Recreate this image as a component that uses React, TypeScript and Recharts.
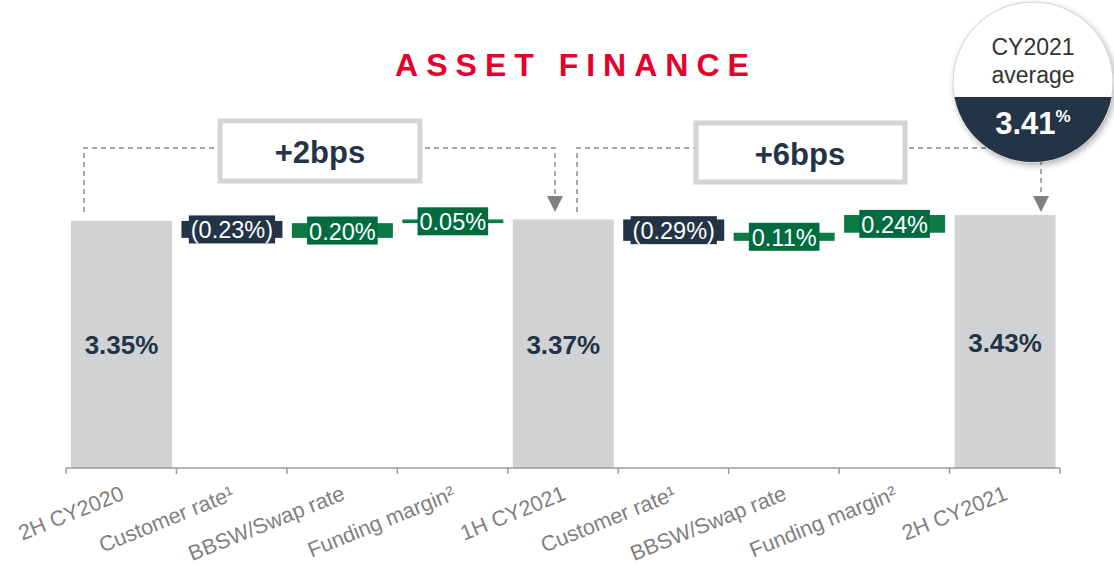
import React from 'react';
import { BarChart, Bar, XAxis, YAxis, Cell } from 'recharts';

// waterfall steps, in % (totals are levels, the rest are changes)
const categories = [
    '2H CY2020',
    'Customer rate¹',
    'BBSW/Swap rate',
    'Funding margin²',
    '1H CY2021',
    'Customer rate¹',
    'BBSW/Swap rate',
    'Funding margin²',
    '2H CY2021'
];
const stepKinds = ['total', 'change', 'change', 'change', 'total', 'change', 'change', 'change', 'total'];
const stepValues = [3.35, -0.23, 0.2, 0.05, 3.37, -0.29, 0.11, 0.24, 3.43];

const W = 1114;
const H = 567;
const margin = { top: 173, right: 54, bottom: 0, left: 66 };
const band = (W - margin.left - margin.right) / categories.length;

const FONT = '"Liberation Sans", Arial, Helvetica, sans-serif';
const NAVY = '#243447';
const GREEN_BAR = '#0C7A45';
const GREEN_BOX = '#006B3F';
const GREY_BAR = '#D1D2D4';
const AXIS = '#9A9A9A';

// build floating bars: invisible base + visible part
let running = 0;
const chartData = categories.map((name, i) => {
    const v = stepValues[i];
    if (stepKinds[i] === 'total') {
        running = v;
        return { name, base: 0, size: v, kind: 'total', value: v };
    }
    const start = running;
    const end = running + v;
    running = end;
    return { name, base: Math.min(start, end), size: Math.abs(v), kind: v < 0 ? 'down' : 'up', value: v };
});

const charW: Record<string, number> = { '.': 0.278, '%': 0.889, '(': 0.333, ')': 0.333 };
const textWidth = (s: string, size: number) =>
    s.split('').reduce((acc, c) => acc + (charW[c] ?? 0.556), 0) * size;

const fmt = (v: number) => {
    const s = Math.abs(v).toFixed(2) + '%';
    return v < 0 ? `(${s})` : s;
};

const StepShape = (props: any) => {
    const { x, y, width, height, payload } = props;
    const cx = x + width / 2;
    const cy = y + height / 2;
    if (payload.kind === 'total') {
        return (
            <g>
                <rect x={x} y={y} width={width} height={height} fill={GREY_BAR} />
                <text x={cx} y={cy + 10} textAnchor="middle" fontFamily={FONT} fontWeight="bold" fontSize={26} fill={NAVY}>
                    {fmt(payload.value)}
                </text>
            </g>
        );
    }
    const barFill = payload.kind === 'down' ? NAVY : GREEN_BAR;
    const boxFill = payload.kind === 'down' ? NAVY : GREEN_BOX;
    const label = fmt(payload.value);
    const bw = textWidth(label, 23.5) + 4;
    return (
        <g>
            <rect x={x} y={y} width={width} height={Math.max(height, 3)} fill={barFill} />
            <rect x={cx - bw / 2} y={cy - 14} width={bw} height={28} fill={boxFill} />
            <text x={cx} y={cy + 9} textAnchor="middle" fontFamily={FONT} fontSize={23.5} fill="#FFFFFF">
                {label}
            </text>
        </g>
    );
};

const AxisTick = (props: any) => {
    const { x, y, payload, index } = props;
    const last = index === categories.length - 1;
    const ax = x + 4;
    const ay = y + 31;
    return (
        <g>
            <line x1={x - band / 2} x2={x - band / 2} y1={y} y2={y + 6} stroke={AXIS} strokeWidth={1.5} />
            {last && <line x1={x + band / 2} x2={x + band / 2} y1={y} y2={y + 6} stroke={AXIS} strokeWidth={1.5} />}
            <text
                x={ax}
                y={ay}
                textAnchor="end"
                transform={`rotate(-22, ${ax}, ${ay})`}
                fontFamily={FONT}
                fontSize={21.5}
                fill="#7F7F7F"
            >
                {payload.value}
            </text>
        </g>
    );
};

export default function App() {
    return (
        <div style={{ position: 'absolute', left: 0, top: 0, width: W, height: H, background: '#fff' }}>
            <BarChart width={W} height={H} data={chartData} margin={margin} barSize={101}>
                <XAxis
                    dataKey="name"
                    interval={0}
                    height={99}
                    tickLine={false}
                    tickSize={0}
                    tickMargin={0}
                    axisLine={{ stroke: AXIS, strokeWidth: 1.5 }}
                    tick={<AxisTick />}
                />
                <YAxis hide domain={[0, 4]} />
                <Bar dataKey="base" stackId="w" fill="transparent" isAnimationActive={false} />
                <Bar dataKey="size" stackId="w" isAnimationActive={false} shape={<StepShape />}>
                    {chartData.map((d, i) => (
                        <Cell key={i} fill={d.kind === 'total' ? GREY_BAR : d.kind === 'down' ? NAVY : GREEN_BAR} />
                    ))}
                </Bar>
            </BarChart>

            {/* annotations on top */}
            <svg width={W} height={H} style={{ position: 'absolute', left: 0, top: 0, pointerEvents: 'none' }}>
                <defs>
                    <filter id="shadow" x="-20%" y="-20%" width="140%" height="140%">
                        <feDropShadow dx="2" dy="3" stdDeviation="3" floodColor="#000" floodOpacity="0.3" />
                    </filter>
                    <clipPath id="circ">
                        <circle cx={1033} cy={82} r={80} />
                    </clipPath>
                </defs>

                <text x={576} y={76} textAnchor="middle" fontFamily={FONT} fontWeight="bold" fontSize={32} letterSpacing={8} fill="#E4002B">
                    ASSET FINANCE
                </text>

                <path d="M84,212 V148 H555 V198" fill="none" stroke="#8C8C8C" strokeWidth={1.5} strokeDasharray="5 4" />
                <polygon points="547,196 563,196 555,212" fill="#808080" />
                <path d="M577,212 V148 H1041 V198" fill="none" stroke="#8C8C8C" strokeWidth={1.5} strokeDasharray="5 4" />
                <polygon points="1033,196 1049,196 1041,212" fill="#808080" />

                <rect x={220} y={121} width={200} height={60} fill="#fff" stroke="#D3D4D6" strokeWidth={5} />
                <text x={320} y={163} textAnchor="middle" fontFamily={FONT} fontWeight="bold" fontSize={31} fill={NAVY}>
                    +2bps
                </text>
                <rect x={696} y={123} width={209} height={59} fill="#fff" stroke="#D3D4D6" strokeWidth={5} />
                <text x={800} y={165} textAnchor="middle" fontFamily={FONT} fontWeight="bold" fontSize={31} fill={NAVY}>
                    +6bps
                </text>

                <circle cx={1033} cy={82} r={80} fill="#fff" stroke="#D0D0D0" strokeWidth={1} filter="url(#shadow)" />
                <rect x={950} y={97} width={170} height={70} fill={NAVY} clipPath="url(#circ)" />
                <text x={1033} y={55} textAnchor="middle" fontFamily={FONT} fontSize={23} fill="#333">
                    CY2021
                </text>
                <text x={1033} y={83} textAnchor="middle" fontFamily={FONT} fontSize={23} fill="#333">
                    average
                </text>
                <text x={1033} y={134} textAnchor="middle" fontFamily={FONT} fontWeight="bold" fontSize={31} fill="#fff">
                    3.41
                    <tspan fontSize={17} dy={-12}>%</tspan>
                </text>
            </svg>
        </div>
    );
}
